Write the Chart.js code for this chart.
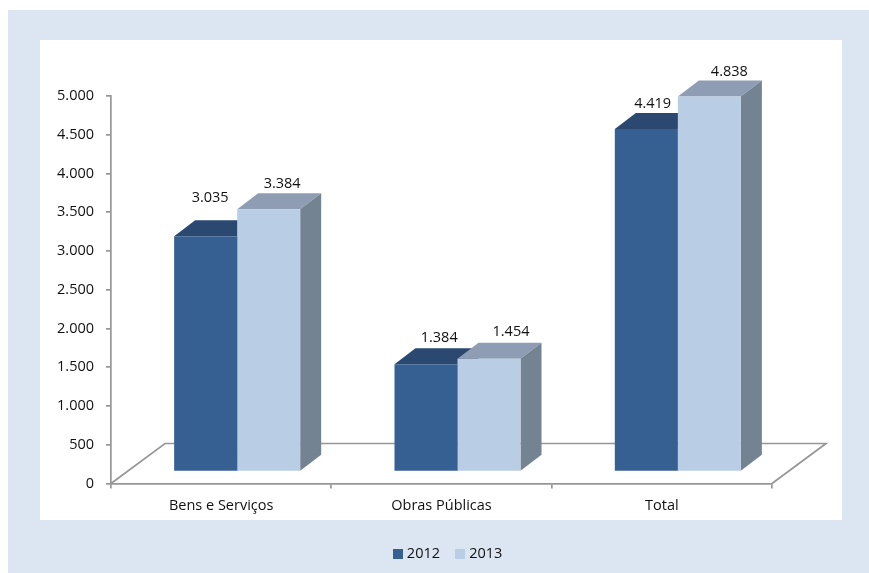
<!DOCTYPE html>
<html><head><meta charset="utf-8">
<script src="https://cdn.jsdelivr.net/npm/chart.js@4"></script>
<style>
html,body{margin:0;padding:0;background:#fff;width:869px;height:573px;overflow:hidden}
#panel{position:absolute;left:8px;top:10px;width:861px;height:563px;background:#dce6f2}
#plot{position:absolute;left:40px;top:40px;width:802px;height:480px;background:#fff}
#wrap{position:absolute;left:0;top:0;width:869px;height:573px}
</style></head><body>
<div id="panel"></div><div id="plot"></div>
<div id="wrap"><canvas id="c" width="869" height="573"></canvas></div>
<script>
const categories = ['Bens e Serviços', 'Obras Públicas', 'Total'];
const seriesNames = ['2012', '2013'];
const values2012 = [3035, 1384, 4419];
const values2013 = [3384, 1454, 4838];
const tickStep = 500, tickMax = 5000;

const fontFam = '"Open Sans", "Noto Sans", sans-serif';
const axisCol = '#969696', textCol = '#111111';
const fmt = v => String(v).replace(/\B(?=(\d{3})+$)/g, '.');
const frontShift = {x: 16, y: -12}, barDepth = {x: 21, y: -16}, floorDepth = {x: 54, y: -40};
const faces = [
  {front:'#376092', top:'#2a4870', side:'#2a4870'},
  {front:'#b9cde5', top:'#8e9db3', side:'#748391'}
];
const labelNudge = [
  [{x:-16.5,y:-22},{x:-7.8,y:-10},{x:-14.7,y:-9}],
  [{x:-7.5,y:-9},{x:1,y:-10.5},{x:-1,y:-8.5}]
];
function swatch(color){
  const s = document.createElement('canvas'); s.width = 10; s.height = 10;
  const g = s.getContext('2d'); g.fillStyle = color; g.fillRect(0,0,10,10);
  return s;
}
function poly(ctx, pts, fill){
  ctx.beginPath(); pts.forEach((p,i)=> i?ctx.lineTo(p[0],p[1]):ctx.moveTo(p[0],p[1])); ctx.closePath();
  ctx.fillStyle = fill; ctx.fill();
}
const bars3d = {
  id:'bars3d',
  afterLayout(chart){
    const lg = chart.legend; if(!lg) return;
    const dx = 449 - (lg.left+lg.right)/2;
    lg.left += dx; lg.right += dx;
    const dy = 529 - lg.top;
    lg.top += dy; lg.bottom += dy;
  },
  beforeDatasetsDraw(chart){
    const {ctx, chartArea:a} = chart;
    ctx.save();
    ctx.strokeStyle = axisCol; ctx.lineWidth = 1.7;
    ctx.beginPath();
    ctx.moveTo(a.left, a.bottom);
    ctx.lineTo(a.left+floorDepth.x, a.bottom+floorDepth.y);
    ctx.lineTo(a.right+floorDepth.x, a.bottom+floorDepth.y);
    ctx.lineTo(a.right, a.bottom);
    ctx.stroke();
    ctx.restore();
    // top and side faces, back to front; the library then paints the front faces over them
    ctx.save();
    ctx.translate(frontShift.x, frontShift.y);
    chart.data.datasets.forEach((ds,i)=>{
      const f = faces[i];
      chart.getDatasetMeta(i).data.forEach(b=>{
        const l=b.x-b.width/2, r=b.x+b.width/2, t=b.y, bt=b.base, d=barDepth;
        poly(ctx,[[l,t],[r,t],[r+d.x,t+d.y],[l+d.x,t+d.y]],f.top);
        poly(ctx,[[r,t],[r+d.x,t+d.y],[r+d.x,bt+d.y],[r,bt]],f.side);
      });
    });
  },
  afterDatasetsDraw(chart){
    const {ctx} = chart;
    ctx.restore();
    ctx.save();
    ctx.font = '14.5px '+fontFam; ctx.fillStyle = textCol; ctx.textAlign='center'; ctx.textBaseline='middle';
    chart.data.datasets.forEach((ds,i)=>{
      chart.getDatasetMeta(i).data.forEach((b,j)=>{
        const n = labelNudge[i][j];
        ctx.fillText(fmt(ds.data[j]), b.x+frontShift.x+barDepth.x+n.x, b.y+frontShift.y+barDepth.y+n.y);
      });
    });
    ctx.restore();
  }
};
new Chart(document.getElementById('c'),{
  type:'bar',
  data:{labels:categories,datasets:[
    {label:seriesNames[0],data:values2012,backgroundColor:faces[0].front,clip:false},
    {label:seriesNames[1],data:values2013,backgroundColor:faces[1].front,clip:false}
  ]},
  options:{
    responsive:false,animation:false,
    layout:{padding:{left:0,right:97,top:96,bottom:0}},
    categoryPercentage:0.572,barPercentage:1,
    scales:{
      x:{
        afterFit(s){ s.height = 47; },
        grid:{drawOnChartArea:false,color:axisCol,lineWidth:1.7,tickLength:5,tickColor:axisCol},
        border:{color:axisCol,width:1.7},
        ticks:{color:textCol,font:{family:fontFam,size:14.5},padding:9,maxRotation:0}
      },
      y:{
        min:0,max:tickMax,
        afterFit(s){ s.width = 111; },
        grid:{drawOnChartArea:false,color:axisCol,lineWidth:1.7,tickLength:5,tickColor:axisCol},
        border:{color:axisCol,width:1.7},
        ticks:{stepSize:tickStep,color:textCol,font:{family:fontFam,size:14.5},padding:12,callback:v=>fmt(v)}
      }
    },
    plugins:{
      legend:{position:'bottom',labels:{
        usePointStyle:true,boxWidth:4,boxHeight:10,padding:18,color:textCol,font:{family:fontFam,size:14.5},
        generateLabels(chart){
          return chart.data.datasets.map((ds,i)=>({
            text:ds.label,datasetIndex:i,fontColor:textCol,fillStyle:ds.backgroundColor,
            strokeStyle:ds.backgroundColor,lineWidth:0,pointStyle:swatch(ds.backgroundColor)
          }));
        }
      }},
      tooltip:{enabled:false}
    }
  },
  plugins:[bars3d]
});
</script>
</body></html>
